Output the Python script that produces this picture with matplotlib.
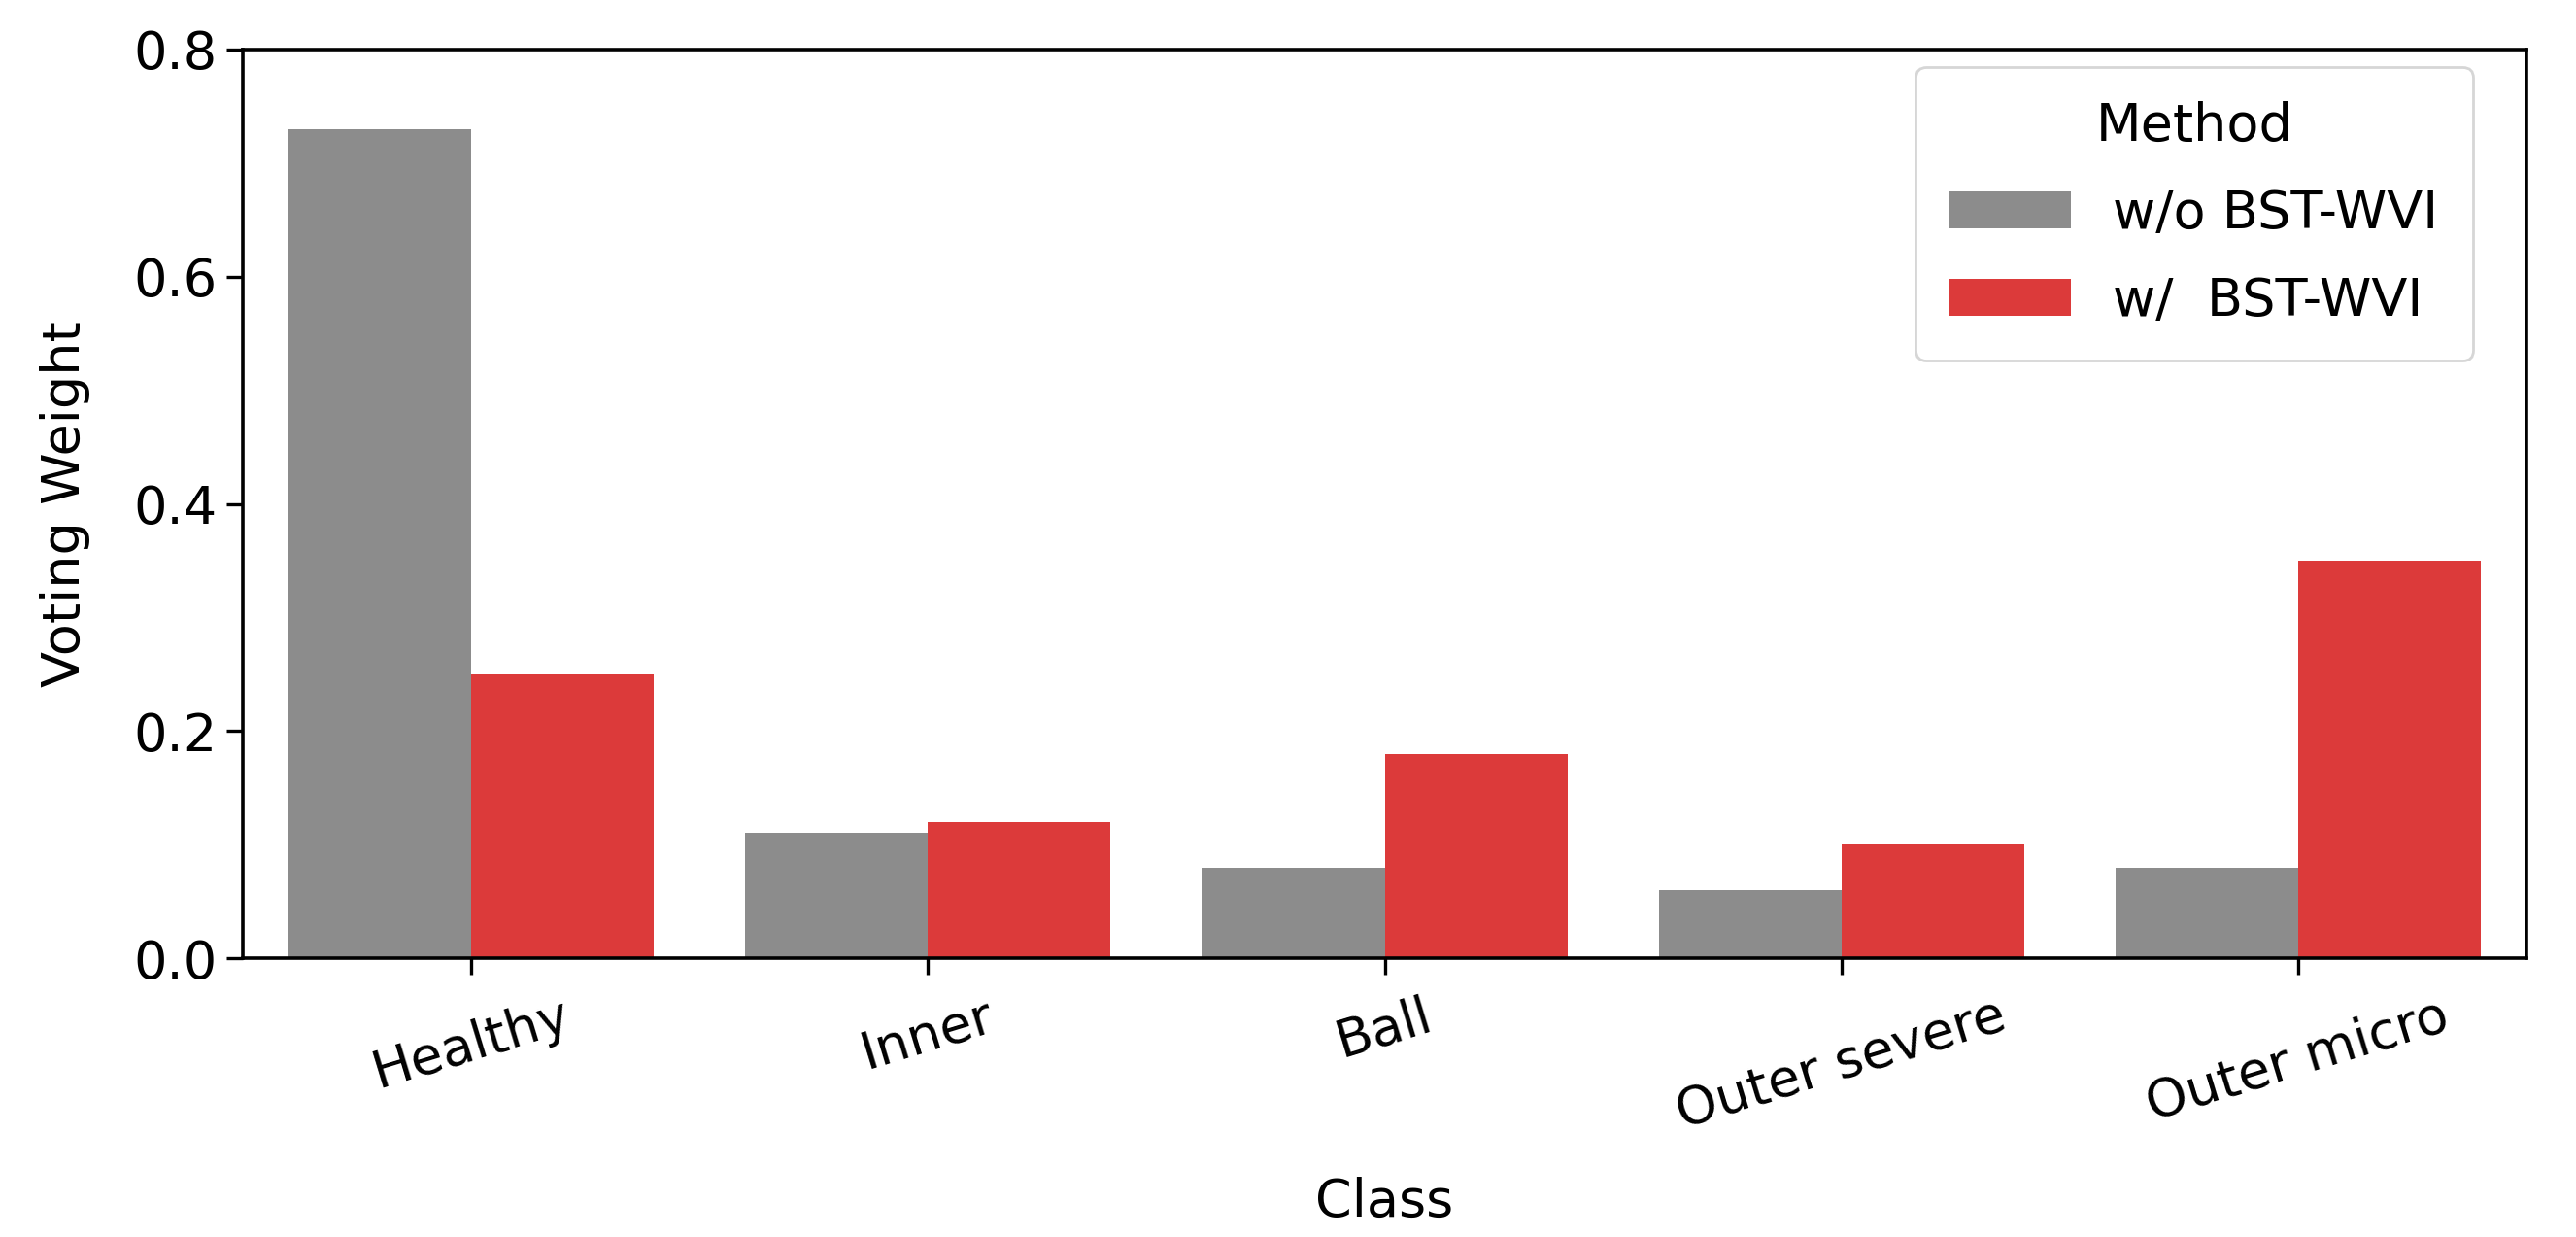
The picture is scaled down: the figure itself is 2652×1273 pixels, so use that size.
import matplotlib
matplotlib.use("Agg")
import matplotlib.pyplot as plt
import numpy as np

classes = ["Healthy", "Inner", "Ball", "Outer severe", "Outer micro"]
methods = ["w/o BST-WVI", "w/  BST-WVI"]
wo_bst = [0.73, 0.11, 0.08, 0.06, 0.08]
w_bst = [0.25, 0.12, 0.18, 0.10, 0.35]
colors = ["#8c8c8c", "#dc3a3a"]

plt.rcParams['font.family'] = ['DejaVu Sans']
fig = plt.figure(figsize=(13.26, 6.365), dpi=200)
ax = fig.add_axes([250/2652, 1 - 986/1273, (2601-250)/2652, (986-51)/1273])

x = np.arange(len(classes))
w = 0.4
ax.bar(x - w/2, wo_bst, width=w, color=colors[0], label=methods[0])
ax.bar(x + w/2, w_bst, width=w, color=colors[1], label=methods[1])

fs = 19.5
ax.set_xlim(-0.5, len(classes) - 0.5)
ax.set_ylim(0, 0.8)
ax.set_yticks([0.0, 0.2, 0.4, 0.6, 0.8])
ax.set_xticks(x)
ax.set_xticklabels(classes, rotation=17, fontsize=fs)
ax.tick_params(axis='y', labelsize=fs, width=1.2, length=6)
ax.tick_params(axis='x', width=1.2, length=6, pad=6)
ax.set_xlabel("Class", fontsize=fs, labelpad=14)
ax.set_ylabel("Voting Weight", fontsize=fs, labelpad=16)
for s in ax.spines.values():
    s.set_linewidth(1.3)

leg = ax.legend(title="Method", fontsize=fs, title_fontsize=fs, loc="upper right",
                borderpad=0.65, handlelength=2.3, labelspacing=0.7,
                bbox_to_anchor=(0.988, 1.01))

fig.savefig("out.png", dpi=200)
